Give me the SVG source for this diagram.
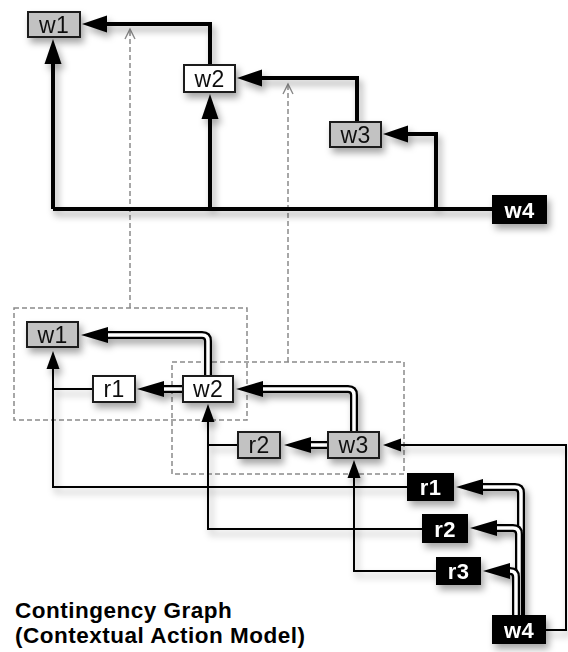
<svg xmlns="http://www.w3.org/2000/svg" width="568" height="652" viewBox="0 0 568 652">
<defs>
<filter id="sh" x="-20%" y="-20%" width="140%" height="140%">
<feDropShadow dx="3" dy="5" stdDeviation="3.5" flood-color="#000" flood-opacity="0.35"/>
</filter>
<marker id="mt" markerUnits="userSpaceOnUse" markerWidth="26" markerHeight="18" refX="1" refY="8.5" orient="auto" viewBox="0 0 26 17" overflow="visible">
<path d="M0,0 L25,8.5 L0,17 z" fill="#000"/>
</marker>
<marker id="md" markerUnits="userSpaceOnUse" markerWidth="28" markerHeight="17" refX="1" refY="8" orient="auto" viewBox="0 0 28 16" overflow="visible">
<path d="M0,0 L27,8 L0,16 z" fill="#000"/>
</marker>
<marker id="ms" markerUnits="userSpaceOnUse" markerWidth="19" markerHeight="14" refX="1" refY="6.5" orient="auto" viewBox="0 0 19 13" overflow="visible">
<path d="M0,0 L18,6.5 L0,13 z" fill="#000"/>
</marker>
<marker id="mo" markerUnits="userSpaceOnUse" markerWidth="14" markerHeight="14" refX="0" refY="0" orient="auto" viewBox="-12 -7 14 14" overflow="visible">
<path d="M-10,-5 L0,0 L-10,5" fill="none" stroke="#8a8a8a" stroke-width="1.4"/>
</marker>
</defs>
<style>
.box{stroke:#1a1a1a;stroke-width:2}
.g{fill:#c2c2c2}
.w{fill:#ffffff}
.k{fill:#000000;stroke:#000}
.t{font-family:"Liberation Sans",Arial,sans-serif;font-size:23px;text-anchor:middle;fill:#111;letter-spacing:0.3px}
.tk{font-family:"Liberation Sans",Arial,sans-serif;font-size:22px;font-weight:bold;text-anchor:middle;fill:#fff;letter-spacing:0.3px}
.thick{fill:none;stroke:#000;stroke-width:4;stroke-linejoin:miter}
.thin{fill:none;stroke:#000;stroke-width:2}
.dob{fill:none;stroke:#000;stroke-width:8;stroke-linejoin:round}
.dow{fill:none;stroke:#fff;stroke-width:3.5;stroke-linejoin:round}
.dash{fill:none;stroke:#8a8a8a;stroke-width:1.5;stroke-dasharray:5,3}
.title{font-family:"Liberation Sans",Arial,sans-serif;font-size:22.5px;font-weight:bold;fill:#000;letter-spacing:0.5px}
</style>
<rect x="0" y="0" width="568" height="652" fill="#fff"/>

<g id="dashed">
<rect class="dash" x="14" y="308" width="233" height="112"/>
<rect class="dash" x="172" y="362" width="232" height="112"/>
<path class="dash" d="M130,308 V29" marker-end="url(#mo)"/>
<path class="dash" d="M288,362 V84" marker-end="url(#mo)"/>
</g>

<g id="connectors" filter="url(#sh)">
<path class="thick" d="M493,209 H53"/>
<path class="thick" d="M210,65 V24 H106" marker-end="url(#mt)"/>
<path class="thick" d="M53,209 V63" marker-end="url(#mt)"/>
<path class="thick" d="M210,209 V118" marker-end="url(#mt)"/>
<path class="thick" d="M357,122 V78 H261" marker-end="url(#mt)"/>
<path class="thick" d="M436,209 V134 H407" marker-end="url(#mt)"/>
<path class="thin" d="M408,487 H53 V368" marker-end="url(#ms)"/>
<path class="thin" d="M93,389 H53"/>
<path class="thin" d="M423,529 H208 V421" marker-end="url(#ms)"/>
<path class="thin" d="M238,445 H208"/>
<path class="thin" d="M437,571 H354 V477" marker-end="url(#ms)"/>
<path class="thin" d="M545,630 H566 V445 H400" marker-end="url(#ms)"/>
<path class="dob" d="M208,376 V341 Q208,335 202,335 H107"/>
<path class="dow" d="M208,378 V341 Q208,335 202,335 H107" marker-end="url(#md)"/>
<path class="dob" d="M183,389 H163" stroke-linecap="round"/>
<path class="dow" d="M183,389 H163" stroke-linecap="round" marker-end="url(#md)"/>
<path class="dob" d="M354,432 V395 Q354,389 348,389 H262"/>
<path class="dow" d="M354,434 V395 Q354,389 348,389 H262" marker-end="url(#md)"/>
<path class="dob" d="M328,445 H310"/>
<path class="dow" d="M330,445 H310" marker-end="url(#md)"/>
<path class="dob" d="M521,616 V493 Q521,487 515,487 H482"/>
<path class="dow" d="M521,618 V493 Q521,487 515,487 H482" marker-end="url(#md)"/>
<path class="dob" d="M519,616 V534 Q519,528 513,528 H496"/>
<path class="dow" d="M519,618 V534 Q519,528 513,528 H496" marker-end="url(#md)"/>
<path class="dob" d="M516,616 V577 Q516,571 510,571 H509"/>
<path class="dow" d="M516,618 V577 Q516,571 510,571 H509" marker-end="url(#md)"/>
</g>

<g id="nodes" filter="url(#sh)">
<g id="top-w1"><rect class="box g" x="28" y="12" width="52" height="25"/><text class="t" x="54" y="32.5">w1</text></g>
<g id="top-w2"><rect class="box w" x="184" y="65" width="51" height="27"/><text class="t" x="209.5" y="86.5">w2</text></g>
<g id="top-w3"><rect class="box g" x="330" y="122" width="51" height="25"/><text class="t" x="355.5" y="142.5">w3</text></g>
<g id="top-w4"><rect class="box k" x="493" y="196" width="53" height="27"/><text class="tk" x="519.5" y="217.5">w4</text></g>

<g id="bot-w1"><rect class="box g" x="27" y="322" width="51" height="25"/><text class="t" x="52.5" y="342.5">w1</text></g>
<g id="bot-r1"><rect class="box w" x="93" y="376" width="42" height="26"/><text class="t" x="114" y="397">r1</text></g>
<g id="bot-w2"><rect class="box w" x="183" y="376" width="50" height="26"/><text class="t" x="208" y="397">w2</text></g>
<g id="bot-r2"><rect class="box g" x="238" y="432" width="42" height="26"/><text class="t" x="259" y="453">r2</text></g>
<g id="bot-w3"><rect class="box g" x="328" y="432" width="51" height="26"/><text class="t" x="353.5" y="453">w3</text></g>
<g id="bot-r1k"><rect class="box k" x="408" y="474" width="45" height="26"/><text class="tk" x="430.5" y="495">r1</text></g>
<g id="bot-r2k"><rect class="box k" x="423" y="515" width="44" height="27"/><text class="tk" x="445" y="536.5">r2</text></g>
<g id="bot-r3k"><rect class="box k" x="437" y="558" width="43" height="26"/><text class="tk" x="458.5" y="579">r3</text></g>
<g id="bot-w4"><rect class="box k" x="493" y="616" width="52" height="27"/><text class="tk" x="519" y="637.5">w4</text></g>
</g>

<g id="title">
<text class="title" x="15" y="618">Contingency Graph</text>
<text class="title" x="15" y="643">(Contextual Action Model)</text>
</g>
</svg>
